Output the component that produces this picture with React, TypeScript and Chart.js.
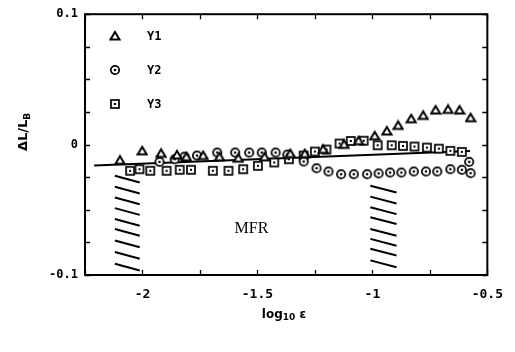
import React, { useEffect, useRef } from "react";
import { Chart, registerables } from "chart.js";
Chart.register(...registerables);

// ---- data ----
const y1X = [-2.098, -2.001, -1.919, -1.85, -1.809, -1.736, -1.665, -1.583, -1.469, -1.357, -1.294, -1.214, -1.123, -1.06, -0.99, -0.937, -0.888, -0.831, -0.779, -0.725, -0.671, -0.621, -0.573];
const y1Y = [-0.012, -0.0048, -0.0067, -0.0079, -0.0094, -0.0084, -0.0094, -0.0104, -0.0094, -0.0069, -0.0069, -0.0036, 0.0002, 0.003, 0.0067, 0.0104, 0.0147, 0.0198, 0.0224, 0.0265, 0.027, 0.0265, 0.0206];

const y2X = [-1.926, -1.86, -1.817, -1.763, -1.675, -1.597, -1.536, -1.481, -1.421, -1.37, -1.299, -1.243, -1.191, -1.136, -1.081, -1.023, -0.973, -0.923, -0.874, -0.82, -0.767, -0.718, -0.661, -0.611, -0.579, -0.573];
const y2Y = [-0.0132, -0.0112, -0.0092, -0.0084, -0.0061, -0.0061, -0.0061, -0.0061, -0.0061, -0.0076, -0.013, -0.0181, -0.0206, -0.0227, -0.0227, -0.0227, -0.0221, -0.0214, -0.0214, -0.0206, -0.0206, -0.0206, -0.0189, -0.0193, -0.0132, -0.0219];

const y3X = [-2.054, -2.013, -1.966, -1.895, -1.838, -1.789, -1.694, -1.626, -1.562, -1.498, -1.427, -1.363, -1.299, -1.25, -1.2, -1.143, -1.094, -1.038, -0.977, -0.916, -0.867, -0.817, -0.763, -0.711, -0.661, -0.611];
const y3Y = [-0.0201, -0.0189, -0.0201, -0.0201, -0.0193, -0.0193, -0.0201, -0.0201, -0.0189, -0.0163, -0.0137, -0.0112, -0.0084, -0.0053, -0.0038, 0.0008, 0.0028, 0.003, -0.0005, -0.0005, -0.001, -0.0015, -0.0023, -0.0031, -0.0048, -0.0056];

const fitX = [-2.21, -0.575];
const fitY = [-0.016, -0.005];

// hatched bands (short slanted strokes)
const hatchLeftX = [-2.12, -2.012];
const hatchLeftY = [-0.0239, -0.0323, -0.0405, -0.0487, -0.057, -0.0647, -0.0735, -0.0824, -0.0914];
const hatchRightX = [-1.009, -0.895];
const hatchRightY = [-0.0315, -0.0399, -0.0481, -0.0557, -0.0647, -0.0723, -0.0799, -0.0888];
const hatchDrop = 0.0052;

const seriesLabels = ["Y1", "Y2", "Y3"];
const xTitle = "log";
const xTitleSub = "10";
const xTitleTail = " ε";
const yTitle = "ΔL/L";
const yTitleSub = "B";
const regionLabel = "MFR";
const regionLabelPos = { x: -1.526, y: -0.0647 };

const xMin = -2.25, xMax = -0.5, xStep = 0.25;
const yMin = -0.1, yMax = 0.1, yStep = 0.025;

function pts(xs: number[], ys: number[]) {
  return xs.map((x, i) => ({ x, y: ys[i] }));
}
function hatch(xs: number[], ys: number[]) {
  const out: any[] = [];
  ys.forEach((y0) => {
    out.push({ x: xs[0], y: y0 });
    out.push({ x: xs[1], y: y0 - hatchDrop });
    out.push({ x: xs[1], y: null });
  });
  return out;
}

function makeMarker(kind: string): HTMLCanvasElement {
  const s = 12;
  const c = document.createElement("canvas");
  c.width = s;
  c.height = s;
  const g = c.getContext("2d")!;
  g.strokeStyle = "#000";
  g.fillStyle = "#fff";
  g.lineWidth = 1.7;
  const m = s / 2;
  if (kind === "triangle") {
    g.lineWidth = 2;
    g.beginPath();
    g.moveTo(m, 2);
    g.lineTo(s - 1.5, s - 2.5);
    g.lineTo(1.5, s - 2.5);
    g.closePath();
    g.fill();
    g.stroke();
  } else if (kind === "circle") {
    g.beginPath();
    g.arc(m, m, 4.2, 0, Math.PI * 2);
    g.fill();
    g.stroke();
    g.fillStyle = "#000";
    g.beginPath();
    g.arc(m, m, 1.3, 0, Math.PI * 2);
    g.fill();
  } else {
    g.fillRect(2, 2, 8, 8);
    g.strokeRect(2, 2, 8, 8);
    g.fillStyle = "#000";
    g.fillRect(5, 5, 2, 2);
  }
  return c;
}

export default function App() {
  const ref = useRef<HTMLCanvasElement | null>(null);
  useEffect(() => {
    document.body.style.margin = "0";
    const tri = makeMarker("triangle");
    const cir = makeMarker("circle");
    const sq = makeMarker("square");
    const markers = [tri, cir, sq];

    const decor = {
      id: "decor",
      afterDraw(chart: any) {
        const { ctx, chartArea: a, scales } = chart;
        const xs = scales.x, ys = scales.y;
        ctx.save();
        ctx.strokeStyle = "#000";
        ctx.fillStyle = "#000";
        // frame
        ctx.lineWidth = 2;
        ctx.strokeRect(a.left, a.top, a.right - a.left, a.bottom - a.top);
        // inward ticks
        ctx.lineWidth = 1.3;
        ctx.beginPath();
        xs.ticks.forEach((t: any) => {
          const p = Math.round(xs.getPixelForValue(t.value)) + 0.5;
          ctx.moveTo(p, a.bottom);
          ctx.lineTo(p, a.bottom - 5);
          ctx.moveTo(p, a.top);
          ctx.lineTo(p, a.top + 5);
        });
        ys.ticks.forEach((t: any) => {
          const p = Math.round(ys.getPixelForValue(t.value)) + 0.5;
          ctx.moveTo(a.left, p);
          ctx.lineTo(a.left + 5, p);
          ctx.moveTo(a.right, p);
          ctx.lineTo(a.right - 5, p);
        });
        ctx.stroke();

        // region label
        ctx.font = "16px 'Liberation Serif'";
        ctx.textAlign = "center";
        ctx.textBaseline = "middle";
        ctx.fillText(regionLabel, xs.getPixelForValue(regionLabelPos.x), ys.getPixelForValue(regionLabelPos.y));

        // legend
        ctx.font = "bold 12px 'DejaVu Sans Mono'";
        ctx.textAlign = "left";
        seriesLabels.forEach((lab, i) => {
          const cy = 36 + i * 34;
          const mk = markers[i];
          ctx.drawImage(mk, 115 - mk.width / 2, cy - mk.height / 2);
          ctx.fillText(lab, 147, cy + 1);
        });

        // x title
        ctx.font = "bold 12px 'DejaVu Sans'";
        ctx.textBaseline = "alphabetic";
        const w1 = ctx.measureText(xTitle).width;
        ctx.font = "bold 9px 'DejaVu Sans'";
        const w2 = ctx.measureText(xTitleSub).width;
        ctx.font = "bold 12px 'DejaVu Sans'";
        const w3 = ctx.measureText(xTitleTail).width;
        let sx = 284 - (w1 + w2 + w3) / 2;
        const by = 318;
        ctx.fillText(xTitle, sx, by);
        sx += w1;
        ctx.font = "bold 9px 'DejaVu Sans'";
        ctx.fillText(xTitleSub, sx, by + 2);
        sx += w2;
        ctx.font = "bold 12px 'DejaVu Sans'";
        ctx.fillText(xTitleTail, sx, by);

        // y title (rotated)
        ctx.translate(27, 132);
        ctx.rotate(-Math.PI / 2);
        ctx.font = "bold 13px 'DejaVu Sans'";
        const v1 = ctx.measureText(yTitle).width;
        ctx.font = "bold 9px 'DejaVu Sans'";
        const v2 = ctx.measureText(yTitleSub).width;
        let tx = -(v1 + v2) / 2;
        ctx.font = "bold 13px 'DejaVu Sans'";
        ctx.fillText(yTitle, tx, 0);
        tx += v1;
        ctx.font = "bold 9px 'DejaVu Sans'";
        ctx.fillText(yTitleSub, tx, 3);
        ctx.restore();
      },
    };

    const chart = new Chart(ref.current!, {
      type: "scatter",
      data: {
        datasets: [
          {
            label: seriesLabels[0],
            data: pts(y1X, y1Y),
            pointStyle: tri as any,
            pointRadius: 5,
          },
          {
            label: seriesLabels[1],
            data: pts(y2X, y2Y),
            pointStyle: cir as any,
            pointRadius: 5,
          },
          {
            label: seriesLabels[2],
            data: pts(y3X, y3Y),
            pointStyle: sq as any,
            pointRadius: 5,
          },
          {
            type: "line",
            label: "fit",
            data: pts(fitX, fitY),
            borderColor: "#000",
            borderWidth: 2,
            pointRadius: 0,
            showLine: true,
          } as any,
          {
            type: "line",
            label: "hatchL",
            data: hatch(hatchLeftX, hatchLeftY),
            borderColor: "#000",
            borderWidth: 2,
            pointRadius: 0,
            showLine: true,
            spanGaps: false,
          } as any,
          {
            type: "line",
            label: "hatchR",
            data: hatch(hatchRightX, hatchRightY),
            borderColor: "#000",
            borderWidth: 2,
            pointRadius: 0,
            showLine: true,
            spanGaps: false,
          } as any,
        ],
      },
      options: {
        animation: false,
        responsive: false,
        devicePixelRatio: 1,
        layout: { padding: { top: 14, right: 23, left: 0, bottom: 0 } },
        plugins: { legend: { display: false }, tooltip: { enabled: false } },
        scales: {
          x: {
            type: "linear",
            min: xMin,
            max: xMax,
            grid: { display: false, drawTicks: false },
            border: { display: false },
            afterFit: (s: any) => {
              s.height = 77;
            },
            ticks: {
              stepSize: xStep,
              padding: 12,
              color: "#000",
              autoSkip: false,
              maxRotation: 0,
              font: { family: "'DejaVu Sans Mono'", size: 13, weight: "bold" },
              callback: (v: any) => {
                const n = Number(v);
                return Math.abs(n * 2 - Math.round(n * 2)) < 1e-6 ? String(Number(n.toFixed(2))) : "";
              },
            },
          },
          y: {
            type: "linear",
            min: yMin,
            max: yMax,
            grid: { display: false, drawTicks: false },
            border: { display: false },
            afterFit: (s: any) => {
              s.width = 85;
            },
            ticks: {
              stepSize: yStep,
              padding: 7,
              color: "#000",
              autoSkip: false,
              font: { family: "'DejaVu Sans Mono'", size: 12, weight: "bold" },
              callback: (v: any) => {
                const n = Number(v);
                return Math.abs(n * 10 - Math.round(n * 10)) < 1e-6 ? String(Number(n.toFixed(2))) : "";
              },
            },
          },
        },
      },
      plugins: [decor],
    } as any);
    return () => chart.destroy();
  }, []);
  return (
    <div style={{ width: 515, height: 352 }}>
      <canvas ref={ref} width={515} height={352} />
    </div>
  );
}
